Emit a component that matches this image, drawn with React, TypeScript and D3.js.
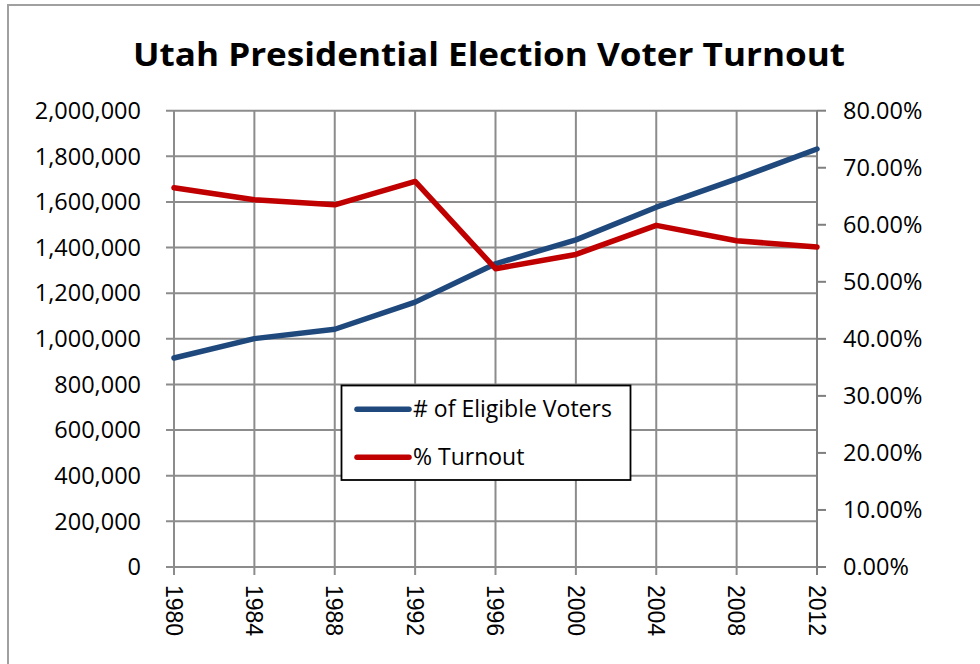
import { useEffect, useRef } from "react";
import * as d3 from "d3";

// ─── Data ────────────────────────────────────────────────────────────────────

const YEARS = ["1980", "1984", "1988", "1992", "1996", "2000", "2004", "2008", "2012"];

// # of Eligible Voters (left axis)
const ELIGIBLE = [916000, 1001000, 1042000, 1161000, 1329000, 1434000, 1577000, 1701000, 1832000];

// % Turnout (right axis, fraction)
const TURNOUT = [0.665, 0.644, 0.635, 0.676, 0.523, 0.548, 0.599, 0.572, 0.561];

const LEFT_TICKS = d3.range(0, 2000001, 200000);
const RIGHT_TICKS = d3.range(0, 0.80001, 0.1);

// ─── Palette ─────────────────────────────────────────────────────────────────

const BLUE = "#1F497D";
const RED = "#C00000";
const GRID = "#8C8C8C";
const AXIS = "#7F7F7F";

const LABEL_FONT = "'Open Sans', sans-serif";
const TICK_FONT = "'Liberation Sans', Arial, sans-serif";

export default function App() {
  const svgRef = useRef<SVGSVGElement>(null);

  useEffect(() => {
    if (!svgRef.current) return;
    const W = 980,
      H = 664;
    const svg = d3.select(svgRef.current);
    svg.selectAll("*").remove();
    svg.attr("viewBox", `0 0 ${W} ${H}`);

    const left = 174,
      right = 817,
      top = 110.7,
      bottom = 567;

    // background + outer frame
    svg.append("rect").attr("width", W).attr("height", H).attr("fill", "#fff");
    svg
      .append("rect")
      .attr("x", 8)
      .attr("y", 5)
      .attr("width", W + 20)
      .attr("height", H + 20)
      .attr("fill", "none")
      .attr("stroke", "#A0A0A0")
      .attr("stroke-width", 2);

    // title
    svg
      .append("text")
      .attr("x", 489)
      .attr("y", 66)
      .attr("text-anchor", "middle")
      .attr("font-family", LABEL_FONT)
      .attr("font-weight", 700)
      .attr("font-size", 32)
      .attr("textLength", 712)
      .attr("lengthAdjust", "spacingAndGlyphs")
      .attr("fill", "#000")
      .text("Utah Presidential Election Voter Turnout");

    const x = d3.scalePoint<string>().domain(YEARS).range([left, right]);
    const yL = d3.scaleLinear().domain([0, 2000000]).range([bottom, top]);
    const yR = d3.scaleLinear().domain([0, 0.8]).range([bottom, top]);

    const g = svg.append("g");

    // horizontal gridlines (left axis)
    g.selectAll(".hgrid")
      .data(LEFT_TICKS)
      .enter()
      .append("line")
      .attr("x1", left - 8)
      .attr("x2", right)
      .attr("y1", (d) => yL(d))
      .attr("y2", (d) => yL(d))
      .attr("stroke", GRID)
      .attr("stroke-width", 2);

    // vertical gridlines
    g.selectAll(".vgrid")
      .data(YEARS)
      .enter()
      .append("line")
      .attr("x1", (d) => x(d)!)
      .attr("x2", (d) => x(d)!)
      .attr("y1", top)
      .attr("y2", bottom + 8)
      .attr("stroke", GRID)
      .attr("stroke-width", 2);

    // right axis line + ticks
    g.append("line")
      .attr("x1", right)
      .attr("x2", right)
      .attr("y1", top)
      .attr("y2", bottom + 8)
      .attr("stroke", AXIS)
      .attr("stroke-width", 2);
    g.selectAll(".rtick")
      .data(RIGHT_TICKS)
      .enter()
      .append("line")
      .attr("x1", right)
      .attr("x2", right + 9)
      .attr("y1", (d) => yR(d))
      .attr("y2", (d) => yR(d))
      .attr("stroke", AXIS)
      .attr("stroke-width", 2);

    // left tick labels
    const fmtN = d3.format(",");
    g.selectAll(".ltext")
      .data(LEFT_TICKS)
      .enter()
      .append("text")
      .attr("x", 141)
      .attr("y", (d) => yL(d))
      .attr("dy", "0.35em")
      .attr("text-anchor", "end")
      .attr("font-family", LABEL_FONT)
      .attr("font-size", 23.5)
      .attr("fill", "#000")
      .text((d) => fmtN(d));

    // right tick labels
    const fmtP = d3.format(".2%");
    g.selectAll(".rtext")
      .data(RIGHT_TICKS)
      .enter()
      .append("text")
      .attr("x", 843)
      .attr("y", (d) => yR(d))
      .attr("dy", "0.35em")
      .attr("text-anchor", "start")
      .attr("font-family", LABEL_FONT)
      .attr("font-size", 23.5)
      .attr("fill", "#000")
      .text((d) => fmtP(d));

    // x tick labels, rotated
    g.selectAll(".xtext")
      .data(YEARS)
      .enter()
      .append("text")
      .attr("transform", (d) => `translate(${x(d)},585) rotate(90)`)
      .attr("dy", "0.36em")
      .attr("text-anchor", "start")
      .attr("font-family", TICK_FONT)
      .attr("font-size", 23)
      .attr("fill", "#000")
      .text((d) => d);

    // series
    const lineL = d3
      .line<number>()
      .x((_, i) => x(YEARS[i])!)
      .y((d) => yL(d));
    const lineR = d3
      .line<number>()
      .x((_, i) => x(YEARS[i])!)
      .y((d) => yR(d));

    g.append("path")
      .attr("d", lineL(ELIGIBLE)!)
      .attr("fill", "none")
      .attr("stroke", BLUE)
      .attr("stroke-width", 5.5)
      .attr("stroke-linejoin", "round")
      .attr("stroke-linecap", "round");

    g.append("path")
      .attr("d", lineR(TURNOUT)!)
      .attr("fill", "none")
      .attr("stroke", RED)
      .attr("stroke-width", 5.5)
      .attr("stroke-linejoin", "round")
      .attr("stroke-linecap", "round");

    // legend
    const lg = svg.append("g");
    lg.append("rect")
      .attr("x", 341.5)
      .attr("y", 385.5)
      .attr("width", 289)
      .attr("height", 94.5)
      .attr("fill", "#fff")
      .attr("stroke", "#000")
      .attr("stroke-width", 1.8);
    const items = [
      { label: "# of Eligible Voters", color: BLUE },
      { label: "% Turnout", color: RED },
    ];
    items.forEach((it, i) => {
      const cy = 409.3 + i * 48;
      lg.append("line")
        .attr("x1", 357)
        .attr("x2", 409)
        .attr("y1", cy)
        .attr("y2", cy)
        .attr("stroke", it.color)
        .attr("stroke-width", 5.5)
        .attr("stroke-linecap", "round");
      lg.append("text")
        .attr("x", 413)
        .attr("y", cy)
        .attr("dy", "0.35em")
        .attr("font-family", LABEL_FONT)
        .attr("font-size", 23)
        .attr("fill", "#000")
        .text(it.label);
    });
  }, []);

  return (
    <svg
      ref={svgRef}
      width={980}
      height={664}
      style={{ position: "absolute", left: 0, top: 0, display: "block" }}
    />
  );
}
